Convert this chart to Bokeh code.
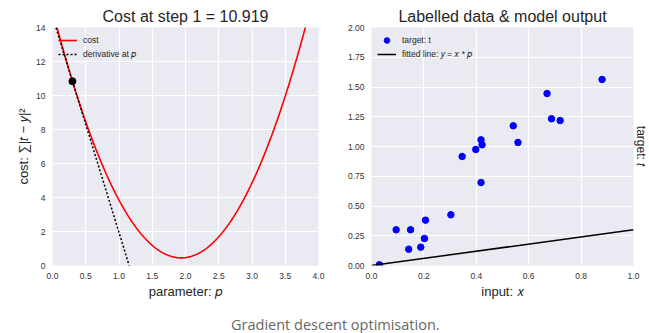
import numpy as np
from bokeh.plotting import figure
from bokeh.models import FixedTicker, Title, Div, Legend, LegendItem, Range1d
from bokeh.layouts import row, column
from bokeh.embed import file_html
from bokeh.resources import INLINE

# ---- data ----
x_input = [0.880, 0.670, 0.687, 0.720, 0.541, 0.559, 0.418, 0.422, 0.398, 0.346,
           0.418, 0.303, 0.206, 0.094, 0.149, 0.202, 0.142, 0.188, 0.030]
t_target = [1.563, 1.445, 1.233, 1.218, 1.174, 1.034, 1.056, 1.014, 0.975, 0.916,
            0.697, 0.426, 0.381, 0.300, 0.300, 0.227, 0.137, 0.154, 0.006]
p_step = 0.3
left_title = "Cost at step 1 = 10.919"
right_title = "Labelled data & model output"
caption = "Gradient descent optimisation."

cost_ticks_x = [0.0, 0.5, 1.0, 1.5, 2.0, 2.5, 3.0, 3.5, 4.0]
cost_tick_labels_x = ["0.0", "0.5", "1.0", "1.5", "2.0", "2.5", "3.0", "3.5", "4.0"]
cost_ticks_y = [0, 2, 4, 6, 8, 10, 12, 14]
cost_tick_labels_y = ["0", "2", "4", "6", "8", "10", "12", "14"]
data_ticks_x = [0.0, 0.2, 0.4, 0.6, 0.8, 1.0]
data_tick_labels_x = ["0.0", "0.2", "0.4", "0.6", "0.8", "1.0"]
data_ticks_y = [0.0, 0.25, 0.5, 0.75, 1.0, 1.25, 1.5, 1.75, 2.0]
data_tick_labels_y = ["0.00", "0.25", "0.50", "0.75", "1.00", "1.25", "1.50", "1.75", "2.00"]

# ---- derived from the data ----
xa = np.array(x_input)
ta = np.array(t_target)
p_grid = np.linspace(cost_ticks_x[0], cost_ticks_x[-1], 401)
cost_curve = ((ta[None, :] - xa[None, :] * p_grid[:, None]) ** 2).sum(axis=1)
cost_at_step = float(((ta - xa * p_step) ** 2).sum())
slope_at_step = float(2 * (xa * (xa * p_step - ta)).sum())
tangent = cost_at_step + slope_at_step * (p_grid - p_step)
fit_x = np.array([data_ticks_x[0], data_ticks_x[-1]])
fit_y = fit_x * p_step

FONT = "Liberation Sans, DejaVu Sans"
TXT = "#262626"


def style(p, xt, xl, yt, yl):
    p.background_fill_color = "#EAEAF2"
    p.border_fill_color = "white"
    p.outline_line_color = None
    p.grid.grid_line_color = "white"
    p.grid.grid_line_width = 1.2
    p.xaxis.ticker = FixedTicker(ticks=xt)
    p.xaxis.major_label_overrides = dict(zip(xt, xl))
    p.yaxis.ticker = FixedTicker(ticks=yt)
    p.yaxis.major_label_overrides = dict(zip(yt, yl))
    p.xgrid.ticker = FixedTicker(ticks=xt)
    p.ygrid.ticker = FixedTicker(ticks=yt)
    for ax in p.axis:
        ax.axis_line_color = None
        ax.major_tick_line_color = None
        ax.minor_tick_line_color = None
        ax.major_tick_out = 0
        ax.major_tick_in = 0
        ax.minor_tick_out = 0
        ax.major_label_standoff = 7
        ax.major_label_text_font = FONT
        ax.major_label_text_font_size = "8.5px"
        ax.major_label_text_color = "#333333"
        ax.axis_label_text_font = FONT
        ax.axis_label_text_font_size = "13px"
        ax.axis_label_text_font_style = "normal"
        ax.axis_label_text_color = TXT
        ax.axis_label_standoff = 2
    p.title.text_font = FONT
    p.title.text_font_size = "16px"
    p.title.text_font_style = "normal"
    p.title.text_color = TXT
    p.title.align = "center"
    p.title.standoff = 5


def make_legend(items):
    lg = Legend(items=items, location="top_left")
    lg.margin = 6
    lg.padding = 4
    lg.spacing = 0
    lg.glyph_width = 19
    lg.glyph_height = 14
    lg.label_height = 14
    lg.label_standoff = 6
    lg.label_text_font = FONT
    lg.label_text_font_size = "8.5px"
    lg.label_text_color = TXT
    lg.border_line_color = None
    lg.background_fill_alpha = 0
    return lg


# ---- left: cost ----
p1 = figure(width=335, height=305, output_backend="svg", toolbar_location=None,
            x_range=Range1d(cost_ticks_x[0], cost_ticks_x[-1]),
            y_range=Range1d(cost_ticks_y[0], cost_ticks_y[-1]),
            title=left_title, min_border_left=52, min_border_right=17,
            min_border_top=27, min_border_bottom=40)
style(p1, cost_ticks_x, cost_tick_labels_x, cost_ticks_y, cost_tick_labels_y)
p1.xaxis.axis_label = "parameter: \U0001D45D"
p1.yaxis.axis_label = "cost: \u2211|\U0001D461 \u2212 \U0001D466|\u00B2"
r_cost = p1.line(p_grid, cost_curve, line_color="#FF0000", line_width=1.6)
r_tan = p1.line(p_grid, tangent, line_color="black", line_width=1.5, line_dash="2 2")
p1.scatter([p_step], [cost_at_step], size=7, color="black")
p1.add_layout(make_legend([
    LegendItem(label="cost", renderers=[r_cost]),
    LegendItem(label="derivative at \U0001D45D", renderers=[r_tan]),
]))

# ---- right: data ----
p2 = figure(width=314, height=305, output_backend="svg", toolbar_location=None,
            x_range=Range1d(data_ticks_x[0], data_ticks_x[-1]),
            y_range=Range1d(data_ticks_y[0], data_ticks_y[-1]),
            title=right_title, min_border_left=36, min_border_right=12,
            min_border_top=27, min_border_bottom=40)
style(p2, data_ticks_x, data_tick_labels_x, data_ticks_y, data_tick_labels_y)
p2.xaxis.axis_label = "input: \U0001D465"
r_pts = p2.scatter(x_input, t_target, size=6.5, color="#0000FF")
r_fit = p2.line(fit_x, fit_y, line_color="black", line_width=1.5)
p2.add_layout(make_legend([
    LegendItem(label="target: t", renderers=[r_pts]),
    LegendItem(label="fitted line: \U0001D466 = \U0001D465 * \U0001D45D", renderers=[r_fit]),
]))
p2.add_layout(Title(text="target: \U0001D461", align="center", standoff=0, offset=0,
                    text_font=FONT, text_font_size="12px", text_font_style="normal",
                    text_color=TXT), "right")

cap = Div(text=('<div style="font-family:\'Open Sans\';font-size:14.5px;color:#666666;'
                'padding-left:231px;padding-top:10px;line-height:19px;white-space:nowrap">'
                + caption + '</div>'), width=649, height=28, margin=0)

layout = column(row(p1, p2), cap)
open("out.html", "w").write(file_html(layout, INLINE))
